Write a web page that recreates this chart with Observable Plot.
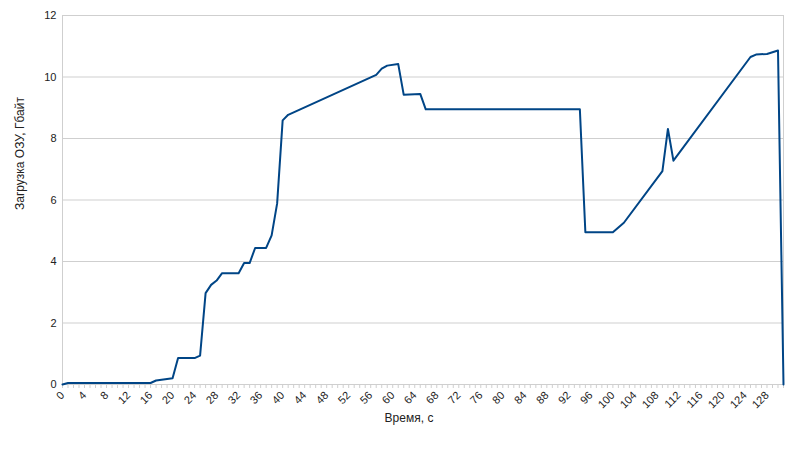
<!DOCTYPE html>
<html>
<head>
<meta charset="utf-8">
<script src="https://cdn.jsdelivr.net/npm/d3@7"></script>
<script src="https://cdn.jsdelivr.net/npm/@observablehq/plot@0.6"></script>
<style>
  html, body { margin: 0; padding: 0; background: #fff; }
</style>
</head>
<body>
<div id="chart"></div>
<script>
// Time, seconds (vertices of the line)
const time = [0, 1, 16, 17, 20, 21, 24, 25, 26, 27, 28, 29, 32, 33, 34, 35, 37, 38, 39, 40, 41, 56, 57, 58, 59, 61, 62, 65, 66, 94, 95, 100, 102, 109, 110, 111, 125, 126, 128, 130, 131];
// RAM load, GB
const ram = [0, 0.05, 0.05, 0.13, 0.2, 0.86, 0.86, 0.94, 2.97, 3.24, 3.38, 3.62, 3.62, 3.95, 3.95, 4.44, 4.44, 4.85, 5.89, 8.59, 8.77, 9.99, 10.07, 10.27, 10.37, 10.42, 9.42, 9.45, 8.95, 8.95, 4.95, 4.95, 5.26, 6.94, 8.31, 7.28, 10.65, 10.73, 10.75, 10.86, 0];
const xLabelTicks = d3.range(0, 129, 4);
const xMinorTicks = d3.range(0, 132, 1);
const yTicks = [0, 2, 4, 6, 8, 10, 12];
const xTitle = "Время, с";
const yTitle = "Загрузка ОЗУ, Гбайт";

const data = time.map((t, i) => ({t, v: ram[i]}));
const gridColor = "#cfcfcf";

const chart = Plot.plot({
  width: 800,
  height: 450,
  marginLeft: 62,
  marginRight: 17,
  marginTop: 15,
  marginBottom: 66,
  style: {fontFamily: "'Liberation Sans', Arial, sans-serif", fontSize: "11px", color: "#222", background: "#fff"},
  x: {domain: [0, 131]},
  y: {domain: [0, 12]},
  marks: [
    Plot.gridY(yTicks, {stroke: gridColor, strokeOpacity: 1}),
    Plot.ruleX([0, 131], {stroke: gridColor, strokeOpacity: 1}),
    Plot.axisX(xMinorTicks, {tickSize: 4, stroke: gridColor, text: null, label: null}),
    Plot.axisX(xLabelTicks, {tickSize: 0, tickRotate: -45, tickPadding: 9, label: null, fill: "#222"}),
    Plot.axisY(yTicks, {tickSize: 0, tickPadding: 6, label: null, fill: "#222"}),
    Plot.line(data, {x: "t", y: "v", stroke: "#004586", strokeWidth: 2, strokeLinejoin: "round"}),
    Plot.text([yTitle], {frameAnchor: "left", rotate: -90, dx: -42, dy: 10, fontSize: 12, fill: "#222"}),
    Plot.text([xTitle], {frameAnchor: "bottom", dy: 37, dx: -14, fontSize: 12, fill: "#222"})
  ]
});
document.getElementById("chart").appendChild(chart);
</script>
</body>
</html>
